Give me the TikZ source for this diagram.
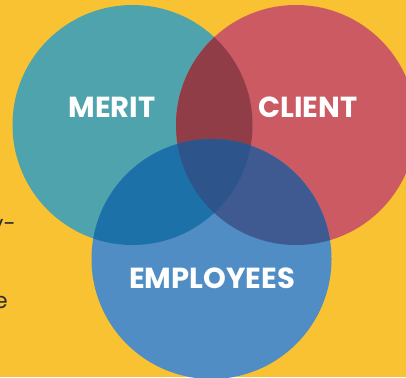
\documentclass[tikz,border=0pt]{standalone}
\usepackage{fontspec}
\setsansfont{Poppins}
\definecolor{bgyellow}{RGB}{248,194,50}
\definecolor{meritteal}{RGB}{79,163,172}
\definecolor{clientred}{RGB}{203,90,99}
\definecolor{staffblue}{RGB}{79,141,196}
\definecolor{mcred}{RGB}{145,61,72}
\definecolor{msblue}{RGB}{27,113,168}
\definecolor{csblue}{RGB}{62,90,145}
\definecolor{allblue}{RGB}{46,84,140}
\definecolor{fraggray}{RGB}{45,45,45}

\begin{document}
\begin{tikzpicture}[x=1pt,y=-1pt]
\tikzstyle{every node}+=[inner sep=0pt]
\tikzstyle{vennlabel}=[text=white, font=\sffamily\bfseries\fontsize{29}{29}\selectfont]
\tikzstyle{fragtext}=[anchor=west, text=fraggray, font=\sffamily\fontsize{22}{22}\selectfont]
\useasboundingbox (0,0) rectangle (406,377);
\clip (0,0) rectangle (406,377);
\fill [bgyellow] (0,0) rectangle (406,377);
% left text, cut off
\node [fragtext] (fraga) at (-9,228) {y-};
\node [fragtext] (fragb) at (-6,302) {e};
% three circles
\fill [meritteal] (132.5,125) circle (120pt);
\fill [clientred] (296,125) circle (120pt);
\fill [staffblue] (211.5,259) circle (120pt);
% overlaps
\begin{scope}
\clip (132.5,125) circle (120pt);
\fill [mcred] (296,125) circle (120pt);
\fill [msblue] (211.5,259) circle (120pt);
\end{scope}
\begin{scope}
\clip (296,125) circle (120pt);
\fill [csblue] (211.5,259) circle (120pt);
\clip (132.5,125) circle (120pt);
\fill [allblue] (211.5,259) circle (120pt);
\end{scope}
% labels
\node [vennlabel] (merit) at (112,107) {MERIT};
\node [vennlabel] (client) at (308,107) {CLIENT};
\node [vennlabel] (employees) at (212,278) {EMPLOYEES};
\end{tikzpicture}
\end{document}
